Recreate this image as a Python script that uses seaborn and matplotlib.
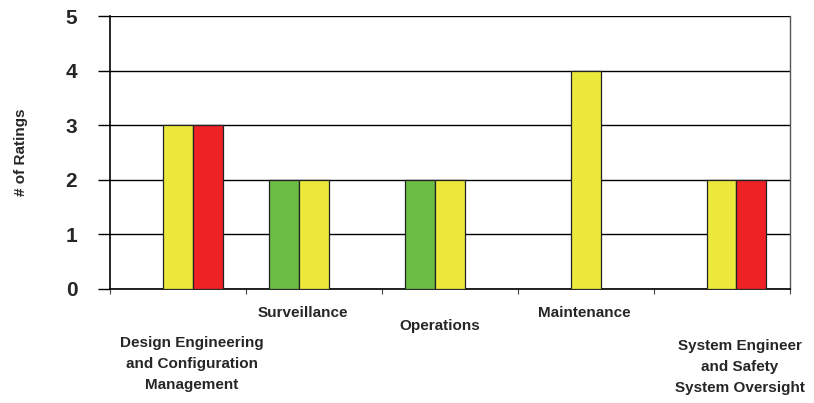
import matplotlib
matplotlib.use("Agg")
import matplotlib.pyplot as plt
import matplotlib.transforms as mtransforms
import numpy as np
import pandas as pd
import seaborn as sns

# Ratings per functional area, split by rating colour
categories = [
    "Design Engineering\nand Configuration\nManagement",
    "Surveillance",
    "Operations",
    "Maintenance",
    "System Engineer\nand Safety\nSystem Oversight",
]
ratings = ["Green", "Yellow", "Red"]
green_counts = [0, 2, 2, 0, 0]
yellow_counts = [3, 2, 2, 4, 2]
red_counts = [3, 0, 0, 0, 2]
y_ticks = [0, 1, 2, 3, 4, 5]

palette = {"Green": "#6CBD45", "Yellow": "#ECE93C", "Red": "#EE2225"}

rows = []
for series, counts in zip(ratings, [green_counts, yellow_counts, red_counts]):
    for cat, n in zip(categories, counts):
        if n > 0:
            rows.append({"Area": cat, "Rating": series, "Count": n})
df = pd.DataFrame(rows)

sns.set_style("white")
plt.rcParams["font.family"] = ["Liberation Sans", "DejaVu Sans"]

fig = plt.figure(figsize=(8.14, 4.03), dpi=100)
ax = fig.add_axes([110 / 814, 1 - 289 / 403, 679.5 / 814, 273 / 403])

sns.barplot(
    data=df, x="Area", y="Count", hue="Rating",
    order=categories, hue_order=ratings, palette=palette,
    width=0.66, dodge=True, edgecolor="#222222", linewidth=0.9,
    saturation=1, legend=False, ax=ax, zorder=3,
)

ax.set_xlim(-0.5, len(categories) - 0.5)
ax.set_ylim(0, 5)
ax.set_yticks(y_ticks)
ax.yaxis.grid(True, color="black", linewidth=1.0, zorder=0)
ax.set_axisbelow(True)
for lbl in ax.get_yticklabels():
    lbl.set_fontsize(15)
    lbl.set_fontweight("bold")
ax.tick_params(axis="y", left=True, direction="out", length=8.5, width=1,
               color="black", pad=15)

# tick marks between categories, labels placed separately
ax.set_xticks([])
ax.set_xticks(np.arange(-0.5, len(categories)), minor=True)
ax.tick_params(axis="x", which="minor", bottom=True, direction="out",
               length=3.5, width=0.8, color="#444444")
ax.set_xlabel("")

ax.set_ylabel("# of Ratings", fontsize=11, fontweight="bold")
ax.yaxis.set_label_coords(-0.12, 0.5)

for side in ["left", "bottom"]:
    ax.spines[side].set_color("black")
    ax.spines[side].set_linewidth(1.2)
ax.spines["top"].set_visible(False)
ax.spines["right"].set_color("#555555")
ax.spines["right"].set_linewidth(1.0)

# staggered category labels
offsets = [(0.103, -0.275), (-0.081, -0.088), (-0.074, -0.136),
           (-0.007, -0.088), (0.132, -0.286)]
trans = mtransforms.blended_transform_factory(ax.transData, ax.transAxes)
for i, (cat, (dx, yy)) in enumerate(zip(categories, offsets)):
    ax.text(i + dx, yy, cat, transform=trans, ha="center", va="center",
            fontsize=11, fontweight="bold", linespacing=1.6,
            multialignment="center", clip_on=False)

fig.savefig("out.png", dpi=100)
